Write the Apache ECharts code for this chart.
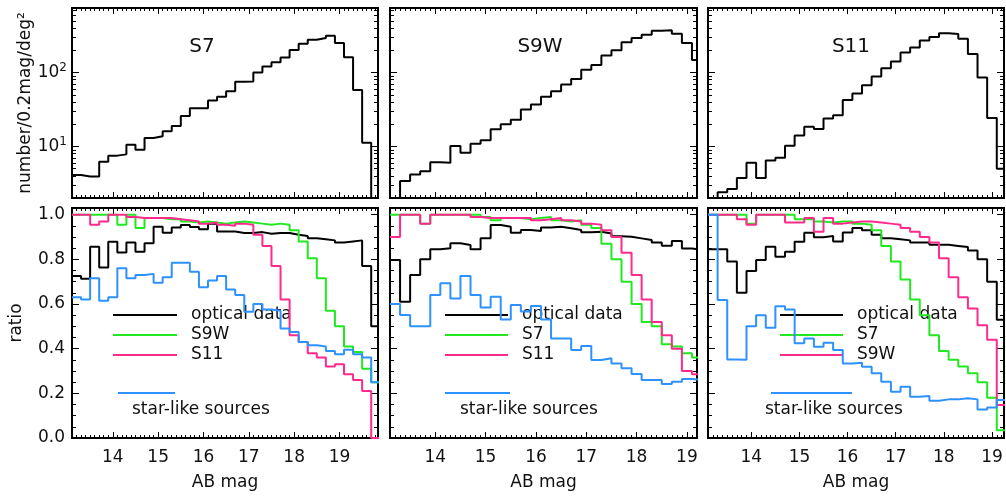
<!DOCTYPE html>
<html>
<head>
<meta charset="utf-8">
<script src="https://cdn.jsdelivr.net/npm/echarts@6/dist/echarts.min.js"></script>
<style>
  html, body { margin: 0; padding: 0; background: #fff; }
  #chart { width: 1006px; height: 498px; }
</style>
</head>
<body>
<div id="chart"></div>
<script>
// Left edges of the 0.2 mag bins (AB mag)
const magEdges = [13.1, 13.3, 13.5, 13.7, 13.9, 14.1, 14.3, 14.5, 14.7, 14.9, 15.1, 15.3, 15.5, 15.7, 15.9,
  16.1, 16.3, 16.5, 16.7, 16.9, 17.1, 17.3, 17.5, 17.7, 17.9, 18.1, 18.3, 18.5, 18.7, 18.9, 19.1, 19.3,
  19.5, 19.7, 19.9];

const bandNames = ['S7', 'S9W', 'S11'];
const magTicks = [14, 15, 16, 17, 18, 19];
const ratioTicks = [0, 0.2, 0.4, 0.6, 0.8, 1.0];
const countTicks = [10, 100];
const countMinorTicks = [2, 3, 4, 5, 6, 7, 8, 9, 20, 30, 40, 50, 60, 70, 80, 90, 200, 300, 400, 500, 600, 700];

// Source counts, number / 0.2 mag / deg^2 (1 = empty bin, below the plotted floor)
const countS7 = [4.1, 3.9, 3.9, 6.2, 7.5, 7.8, 10.5, 9.0, 13.0, 13.7, 16.0, 18.9, 25.9, 33, 33, 42, 47, 56,
  75, 76, 100, 121, 138, 160, 203, 245, 279, 294, 316, 251, 162, 58, 11.2, 1];
const countS9W = [1, 3.4, 4.15, 4.6, 6.1, 6.0, 10.1, 8.2, 10.9, 12.1, 17.1, 20, 23, 31.6, 37, 47, 56, 69, 82,
  109, 127, 171, 200, 257, 294, 326, 370, 375, 337, 251, 148];
const countS11 = [1, 2.4, 2.65, 3.74, 6.0, 3.74, 6.44, 7.0, 10.2, 14.1, 18.4, 17.2, 23.8, 26.5, 42.4, 52.2,
  67.2, 88.2, 114.5, 141, 187, 219, 273, 303, 340, 333, 288, 178, 86, 24.3, 5.0];

// Matched fractions, S7 sample
const opticalS7 = [0.725, 0.713, 0.857, 0.764, 0.879, 0.831, 0.876, 0.834, 0.872, 0.946, 0.919, 0.943, 0.954,
  0.945, 0.935, 0.96, 0.925, 0.925, 0.918, 0.918, 0.922, 0.915, 0.918, 0.918, 0.91, 0.905, 0.895, 0.89,
  0.885, 0.875, 0.88, 0.885, 0.77, 0.5];
const s9wInS7 = [1.0, 1.0, 1.0, 1.0, 1.0, 0.955, 1.0, 0.94, 0.985, 0.985, 0.98, 0.98, 0.97, 0.965, 0.97, 0.965,
  0.96, 0.965, 0.97, 0.965, 0.96, 0.955, 0.96, 0.955, 0.93, 0.88, 0.805, 0.715, 0.57, 0.5, 0.41, 0.385,
  0.31, 0.25];
const s11InS7 = [1.0, 1.0, 0.955, 0.97, 1.0, 1.0, 0.99, 0.985, 0.985, 0.985, 0.985, 0.98, 0.975, 0.97, 0.96,
  0.965, 0.955, 0.95, 0.96, 0.955, 0.91, 0.86, 0.77, 0.62, 0.46, 0.43, 0.38, 0.36, 0.32, 0.33, 0.285, 0.26,
  0.21, 0];
const starS7 = [0.63, 0.62, 0.715, 0.615, 0.63, 0.76, 0.715, 0.73, 0.735, 0.695, 0.72, 0.785, 0.785, 0.745,
  0.675, 0.705, 0.725, 0.665, 0.64, 0.565, 0.6, 0.575, 0.57, 0.49, 0.475, 0.43, 0.415, 0.41, 0.39, 0.375,
  0.395, 0.375, 0.36, 0.25];

// Matched fractions, S9W sample
const opticalS9W = [0.797, 0.61, 0.73, 0.8, 0.845, 0.85, 0.872, 0.864, 0.845, 0.894, 0.954, 0.946, 0.919,
  0.931, 0.927, 0.943, 0.946, 0.939, 0.931, 0.921, 0.924, 0.916, 0.904, 0.901, 0.894, 0.887, 0.875, 0.861,
  0.882, 0.849, 0.842];
const s7InS9W = [1.0, 1.0, 1.0, 0.96, 1.0, 1.0, 1.0, 1.0, 1.0, 0.99, 0.975, 0.985, 0.985, 0.98, 0.985, 0.99,
  0.975, 0.97, 0.975, 0.955, 0.94, 0.87, 0.8, 0.7, 0.6, 0.52, 0.5, 0.42, 0.41, 0.38, 0.36];
const s11InS9W = [0.9, 1.0, 1.0, 0.96, 1.0, 1.0, 1.0, 1.0, 0.99, 0.985, 0.985, 0.985, 0.985, 0.985, 0.975,
  0.98, 0.985, 0.975, 0.97, 0.96, 0.955, 0.93, 0.9, 0.83, 0.73, 0.62, 0.52, 0.46, 0.4, 0.3, 0.285];
const starS9W = [0.6, 0.551, 0.501, 0.501, 0.64, 0.693, 0.625, 0.725, 0.64, 0.584, 0.633, 0.531, 0.596, 0.566,
  0.591, 0.531, 0.446, 0.446, 0.394, 0.412, 0.349, 0.357, 0.334, 0.312, 0.287, 0.26, 0.26, 0.242, 0.252,
  0.264, 0.26];

// Matched fractions, S11 sample
const opticalS11 = [0.845, 0.845, 0.79, 0.65, 0.748, 0.797, 0.857, 0.812, 0.834, 0.879, 0.919, 0.899, 0.905,
  0.88, 0.92, 0.94, 0.93, 0.91, 0.895, 0.89, 0.885, 0.875, 0.875, 0.865, 0.865, 0.86, 0.855, 0.84, 0.8, 0.7,
  0.53];
const s7InS11 = [1.0, 1.0, 1.0, 1.0, 0.96, 1.0, 1.0, 1.0, 1.0, 0.98, 0.98, 0.97, 0.965, 0.97, 0.97, 0.96, 0.955,
  0.93, 0.86, 0.79, 0.71, 0.62, 0.55, 0.46, 0.39, 0.35, 0.32, 0.29, 0.25, 0.18, 0.035];
const s9wInS11 = [1.0, 1.0, 1.0, 0.98, 0.955, 1.0, 1.0, 1.0, 0.965, 0.965, 0.985, 0.924, 0.985, 0.96, 0.965,
  0.97, 0.97, 0.965, 0.96, 0.955, 0.94, 0.924, 0.9, 0.875, 0.805, 0.72, 0.63, 0.58, 0.505, 0.44, 0.148];
const starS11 = [1.0, 0.618, 0.352, 0.35, 0.5, 0.55, 0.494, 0.59, 0.576, 0.424, 0.446, 0.409, 0.427, 0.394,
  0.334, 0.337, 0.319, 0.29, 0.252, 0.207, 0.23, 0.185, 0.188, 0.167, 0.173, 0.173, 0.178, 0.173, 0.128,
  0.137, 0.17];

const BLACK = '#000000', GREEN = '#22e822', PINK = '#ff2a8c', BLUE = '#2d91ff';
const FONT = 'DejaVu Sans';

const panels = [
  { counts: countS7, optical: opticalS7, stars: starS7,
    others: [['S9W', s9wInS7, GREEN], ['S11', s11InS7, PINK]] },
  { counts: countS9W, optical: opticalS9W, stars: starS9W,
    others: [['S7', s7InS9W, GREEN], ['S11', s11InS9W, PINK]] },
  { counts: countS11, optical: opticalS11, stars: starS11,
    others: [['S7', s7InS11, GREEN], ['S9W', s9wInS11, PINK]] }
];

// Layout: three columns, two rows of framed panels
const columns = [
  { left: 72, width: 306, xMax: 19.85, titleX: 202, legend: { lineX: [113, 177], textX: 191, starLine: [118, 175], starTextX: 132 } },
  { left: 390, width: 307, xMax: 19.2, titleX: 540, legend: { lineX: [445, 508], textX: 522, starLine: [445, 510], starTextX: 460 } },
  { left: 708, width: 296, xMax: 19.25, titleX: 851, legend: { lineX: [780, 843], textX: 857, starLine: [771, 852], starTextX: 765 } }
];
const rows = [{ top: 8, height: 190 }, { top: 208, height: 230 }];

const magMinorTicks = [];
for (let i = 132; i <= 199; i++) magMinorTicks.push(i / 10);
const ratioMinorTicks = [];
for (let i = 1; i <= 20; i++) ratioMinorTicks.push(i / 20);

const grids = [], xAxes = [], yAxes = [], series = [], graphics = [];

function labelStyle() {
  return { color: '#111', fontFamily: FONT, fontSize: 17 };
}

function addPanel(col, row, isTop, showYLabels) {
  const rect = { left: col.left, top: row.top, width: col.width, height: row.height };
  const gMain = grids.length;
  grids.push(Object.assign({}, rect));
  grids.push(Object.assign({}, rect));
  let xIdx = -1, yIdx = -1;
  [gMain, gMain + 1].forEach((g, j) => {
    const major = j === 0;
    ['bottom', 'top'].forEach(pos => {
      if (major && pos === 'bottom') xIdx = xAxes.length;
      xAxes.push({
        type: 'value', gridIndex: g, position: pos, min: 13.1, max: col.xMax,
        axisLine: { show: true, onZero: false, lineStyle: { color: '#000', width: 2 } },
        axisTick: { show: true, inside: true, length: major ? 6 : 3,
          customValues: major ? magTicks : magMinorTicks, lineStyle: { color: '#000', width: 1 } },
        axisLabel: Object.assign({ show: major && pos === 'bottom' && !isTop, customValues: magTicks,
          margin: 11, formatter: v => String(v) }, labelStyle()),
        splitLine: { show: false }
      });
    });
    ['left', 'right'].forEach(pos => {
      if (major && pos === 'left') yIdx = yAxes.length;
      const ax = {
        gridIndex: g, position: pos,
        axisLine: { show: true, onZero: false, lineStyle: { color: '#000', width: 2 } },
        splitLine: { show: false }
      };
      if (isTop) {
        Object.assign(ax, { type: 'log', logBase: 10, min: 2, max: 750 });
        ax.axisTick = { show: true, inside: true, length: major ? 7 : 4,
          customValues: major ? countTicks : countMinorTicks, lineStyle: { color: '#000', width: 1 } };
        ax.axisLabel = Object.assign({
          show: major && pos === 'left' && showYLabels, customValues: countTicks, margin: 5,
          formatter: v => '10{s|' + Math.round(Math.log10(v)) + '}',
          rich: { s: { fontFamily: FONT, fontSize: 12, color: '#111', padding: [0, 0, 10, 0] } }
        }, labelStyle());
      } else {
        Object.assign(ax, { type: 'value', min: 0, max: 1.03 });
        ax.axisTick = { show: true, inside: true, length: major ? 7 : 4,
          customValues: major ? ratioTicks : ratioMinorTicks, lineStyle: { color: '#000', width: 1 } };
        ax.axisLabel = Object.assign({
          show: major && pos === 'left' && showYLabels, customValues: ratioTicks, margin: 7,
          formatter: v => v.toFixed(1)
        }, labelStyle());
      }
      yAxes.push(ax);
    });
  });
  return { xIdx, yIdx };
}

// Histogram outline: one point per bin left edge, closed at the last right edge
function stepData(values) {
  const pts = values.map((v, i) => [magEdges[i], v]);
  pts.push([magEdges[values.length], values[values.length - 1]]);
  return pts;
}

function histSeries(axes, values, color, z) {
  return {
    type: 'line', step: 'end', xAxisIndex: axes.xIdx, yAxisIndex: axes.yIdx,
    data: stepData(values), symbol: 'none', showSymbol: false, clip: true, z: z,
    lineStyle: { color: color, width: 2 }, itemStyle: { color: color },
    emphasis: { disabled: true }, silent: true
  };
}

function text(x, y, str, opts) {
  return Object.assign({ type: 'text', x: x, y: y, silent: true,
    style: Object.assign({ text: str, fill: '#111', fontFamily: FONT, fontSize: 17,
      align: 'left', verticalAlign: 'middle' }, opts || {}) });
}

function line(x1, x2, y, color) {
  return { type: 'line', silent: true, shape: { x1: x1, y1: y, x2: x2, y2: y },
    style: { stroke: color, lineWidth: 2 } };
}

panels.forEach((p, c) => {
  const col = columns[c];
  const topAxes = addPanel(col, rows[0], true, c === 0);
  series.push(histSeries(topAxes, p.counts, BLACK, 3));

  const botAxes = addPanel(col, rows[1], false, c === 0);
  series.push(histSeries(botAxes, p.optical, BLACK, 3));
  series.push(histSeries(botAxes, p.others[0][1], p.others[0][2], 4));
  series.push(histSeries(botAxes, p.others[1][1], p.others[1][2], 5));
  series.push(histSeries(botAxes, p.stars, BLUE, 6));

  // band label inside the count panel
  graphics.push(text(col.titleX, 47, bandNames[c], { fontSize: 20, align: 'center' }));
  // x axis title
  graphics.push(text(col.left + col.width / 2, 483, 'AB mag', { fontSize: 17, align: 'center' }));

  // key for the ratio panel
  const lg = col.legend;
  const keys = [['optical data', BLACK], [p.others[0][0], p.others[0][2]], [p.others[1][0], p.others[1][2]]];
  keys.forEach((k, i) => {
    const y = 315 + i * 20;
    graphics.push(line(lg.lineX[0], lg.lineX[1], y, k[1]));
    graphics.push(text(lg.textX, y, k[0]));
  });
  graphics.push(line(lg.starLine[0], lg.starLine[1], 393, BLUE));
  graphics.push(text(lg.starTextX, 410, 'star-like sources'));
});

// y axis titles
const yTitleTop = text(26, 103, 'number/0.2mag/deg\u00B2', { align: 'center' });
yTitleTop.rotation = Math.PI / 2;
graphics.push(yTitleTop);
const yTitleBottom = text(17, 323, 'ratio', { align: 'center' });
yTitleBottom.rotation = Math.PI / 2;
graphics.push(yTitleBottom);

const chart = echarts.init(document.getElementById('chart'), null, { renderer: 'canvas', width: 1006, height: 498 });
chart.setOption({
  animation: false,
  backgroundColor: '#ffffff',
  grid: grids,
  xAxis: xAxes,
  yAxis: yAxes,
  series: series,
  graphic: { elements: graphics }
});
</script>
</body>
</html>
